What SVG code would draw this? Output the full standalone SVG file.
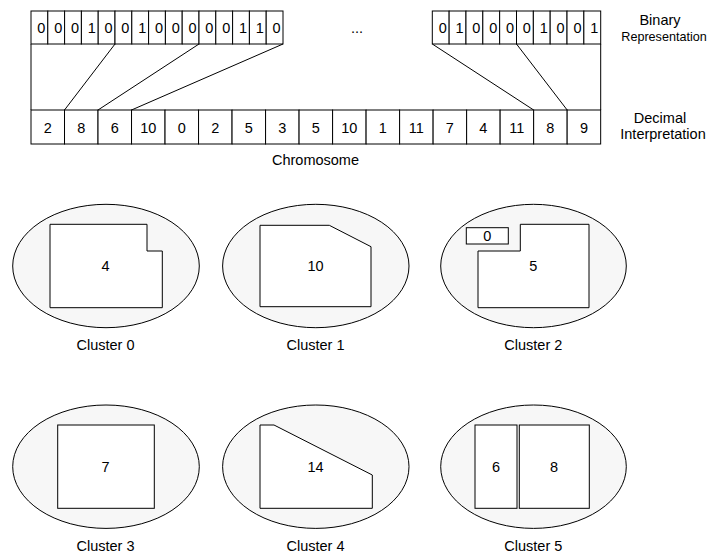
<svg xmlns="http://www.w3.org/2000/svg" width="709" height="554" viewBox="0 0 709 554">
<style>
text{font-family:"Liberation Sans",Arial,sans-serif;font-size:14.5px;fill:#000;text-anchor:middle}
.cell{fill:#fff;stroke:#000;stroke-width:1}
.ell{fill:#f7f7f7;stroke:#000;stroke-width:1}
.shp{fill:#fff;stroke:#000;stroke-width:1}
.con{stroke:#000;stroke-width:1;fill:none}
</style>
<rect width="709" height="554" fill="#fff"/>
<g id="binary-left">
<rect class="cell" x="31" y="11" width="16.8" height="33"/><rect class="cell" x="47.8" y="11" width="16.8" height="33"/><rect class="cell" x="64.6" y="11" width="16.8" height="33"/><rect class="cell" x="81.4" y="11" width="16.8" height="33"/><rect class="cell" x="98.2" y="11" width="16.8" height="33"/><rect class="cell" x="115" y="11" width="16.8" height="33"/><rect class="cell" x="131.8" y="11" width="16.8" height="33"/><rect class="cell" x="148.6" y="11" width="16.8" height="33"/><rect class="cell" x="165.4" y="11" width="16.8" height="33"/><rect class="cell" x="182.2" y="11" width="16.8" height="33"/><rect class="cell" x="199" y="11" width="16.8" height="33"/><rect class="cell" x="215.8" y="11" width="16.8" height="33"/><rect class="cell" x="232.6" y="11" width="16.8" height="33"/><rect class="cell" x="249.4" y="11" width="16.8" height="33"/><rect class="cell" x="266.2" y="11" width="16.8" height="33"/>
<text x="41.4" y="33">0</text><text x="58.2" y="33">0</text><text x="75" y="33">0</text><text x="91.8" y="33">1</text><text x="108.6" y="33">0</text><text x="125.4" y="33">0</text><text x="142.2" y="33">1</text><text x="159" y="33">0</text><text x="175.8" y="33">0</text><text x="192.6" y="33">0</text><text x="209.4" y="33">0</text><text x="226.2" y="33">0</text><text x="243" y="33">1</text><text x="259.8" y="33">1</text><text x="276.6" y="33">0</text>
</g>
<g id="ellipsis"><text x="357" y="33">...</text></g>
<g id="binary-right">
<rect class="cell" x="432.3" y="11" width="16.84" height="33"/><rect class="cell" x="449.14" y="11" width="16.84" height="33"/><rect class="cell" x="465.98" y="11" width="16.84" height="33"/><rect class="cell" x="482.82" y="11" width="16.84" height="33"/><rect class="cell" x="499.66" y="11" width="16.84" height="33"/><rect class="cell" x="516.5" y="11" width="16.84" height="33"/><rect class="cell" x="533.34" y="11" width="16.84" height="33"/><rect class="cell" x="550.18" y="11" width="16.84" height="33"/><rect class="cell" x="567.02" y="11" width="16.84" height="33"/><rect class="cell" x="583.86" y="11" width="16.84" height="33"/>
<text x="442.7" y="33">0</text><text x="459.54" y="33">1</text><text x="476.38" y="33">0</text><text x="493.22" y="33">0</text><text x="510.06" y="33">0</text><text x="526.9" y="33">0</text><text x="543.74" y="33">1</text><text x="560.58" y="33">0</text><text x="577.42" y="33">0</text><text x="594.26" y="33">1</text>
</g>
<g id="decimal-row">
<rect class="cell" x="31" y="110" width="33.51" height="34"/><rect class="cell" x="64.51" y="110" width="33.51" height="34"/><rect class="cell" x="98.02" y="110" width="33.51" height="34"/><rect class="cell" x="131.53" y="110" width="33.51" height="34"/><rect class="cell" x="165.04" y="110" width="33.51" height="34"/><rect class="cell" x="198.55" y="110" width="33.51" height="34"/><rect class="cell" x="232.06" y="110" width="33.51" height="34"/><rect class="cell" x="265.57" y="110" width="33.51" height="34"/><rect class="cell" x="299.08" y="110" width="33.51" height="34"/><rect class="cell" x="332.59" y="110" width="33.51" height="34"/><rect class="cell" x="366.1" y="110" width="33.51" height="34"/><rect class="cell" x="399.61" y="110" width="33.51" height="34"/><rect class="cell" x="433.12" y="110" width="33.51" height="34"/><rect class="cell" x="466.63" y="110" width="33.51" height="34"/><rect class="cell" x="500.14" y="110" width="33.51" height="34"/><rect class="cell" x="533.65" y="110" width="33.51" height="34"/><rect class="cell" x="567.16" y="110" width="33.51" height="34"/>
<text x="47.76" y="132.5">2</text><text x="81.27" y="132.5">8</text><text x="114.78" y="132.5">6</text><text x="148.29" y="132.5">10</text><text x="181.8" y="132.5">0</text><text x="215.31" y="132.5">2</text><text x="248.82" y="132.5">5</text><text x="282.33" y="132.5">3</text><text x="315.84" y="132.5">5</text><text x="349.35" y="132.5">10</text><text x="382.86" y="132.5">1</text><text x="416.37" y="132.5">11</text><text x="449.88" y="132.5">7</text><text x="483.39" y="132.5">4</text><text x="516.9" y="132.5">11</text><text x="550.41" y="132.5">8</text><text x="583.92" y="132.5">9</text>
</g>
<g id="connectors">
<line class="con" x1="31" y1="44" x2="31" y2="110"/>
<line class="con" x1="600.7" y1="44" x2="600.7" y2="110"/>
<line class="con" x1="115" y1="44" x2="64.51" y2="110"/>
<line class="con" x1="199" y1="44" x2="98.02" y2="110"/>
<line class="con" x1="283" y1="44" x2="131.53" y2="110"/>
<line class="con" x1="432.3" y1="44" x2="533.65" y2="110"/>
<line class="con" x1="516.5" y1="44" x2="567.16" y2="110"/>
</g>
<g id="labels">
<text x="660" y="25">Binary</text>
<text x="664" y="41" style="font-size:12.6px">Representation</text>
<text x="660" y="122.5">Decimal</text>
<text x="663" y="138.5">Interpretation</text>
<text x="315.5" y="164.5">Chromosome</text>
</g>
<g id="cluster0">
<ellipse class="ell" cx="106" cy="266" rx="93.3" ry="61.7"/>
<polygon class="shp" points="50,224.3 147,224.3 147,251 162.3,251 162.3,307.7 50,307.7"/>
<text x="105.5" y="271.2">4</text>
<text x="105.5" y="349.5">Cluster 0</text>
</g>
<g id="cluster1">
<ellipse class="ell" cx="315.8" cy="266" rx="93.2" ry="61.7"/>
<polygon class="shp" points="260,225.3 329.3,225.3 371,246.7 371,306.7 260,306.7"/>
<text x="315.5" y="271.2">10</text>
<text x="315.5" y="349.5">Cluster 1</text>
</g>
<g id="cluster2">
<ellipse class="ell" cx="533.5" cy="266" rx="92.8" ry="61.7"/>
<rect class="shp" x="466.3" y="227.7" width="42" height="16.3"/>
<text x="487.3" y="241.2">0</text>
<polygon class="shp" points="520.3,224.3 589,224.3 589,307.7 478,307.7 478,251 520.3,251"/>
<text x="533.3" y="271.2">5</text>
<text x="533.3" y="349.5">Cluster 2</text>
</g>
<g id="cluster3">
<ellipse class="ell" cx="106" cy="466.7" rx="93.3" ry="61.7"/>
<rect class="shp" x="57.7" y="425" width="96.6" height="83.3"/>
<text x="105.5" y="472">7</text>
<text x="105.5" y="550.5">Cluster 3</text>
</g>
<g id="cluster4">
<ellipse class="ell" cx="315.8" cy="466.7" rx="93.2" ry="61.7"/>
<polygon class="shp" points="260,425 274,425 372.3,475 372.3,508.3 260,508.3"/>
<text x="315.5" y="472">14</text>
<text x="315.5" y="550.5">Cluster 4</text>
</g>
<g id="cluster5">
<ellipse class="ell" cx="533.5" cy="466.7" rx="92.8" ry="61.7"/>
<rect class="shp" x="475" y="425" width="42" height="83.3"/>
<text x="496" y="472">6</text>
<rect class="shp" x="519.3" y="425" width="70" height="83.3"/>
<text x="554" y="472">8</text>
<text x="533.3" y="550.5">Cluster 5</text>
</g>
</svg>
